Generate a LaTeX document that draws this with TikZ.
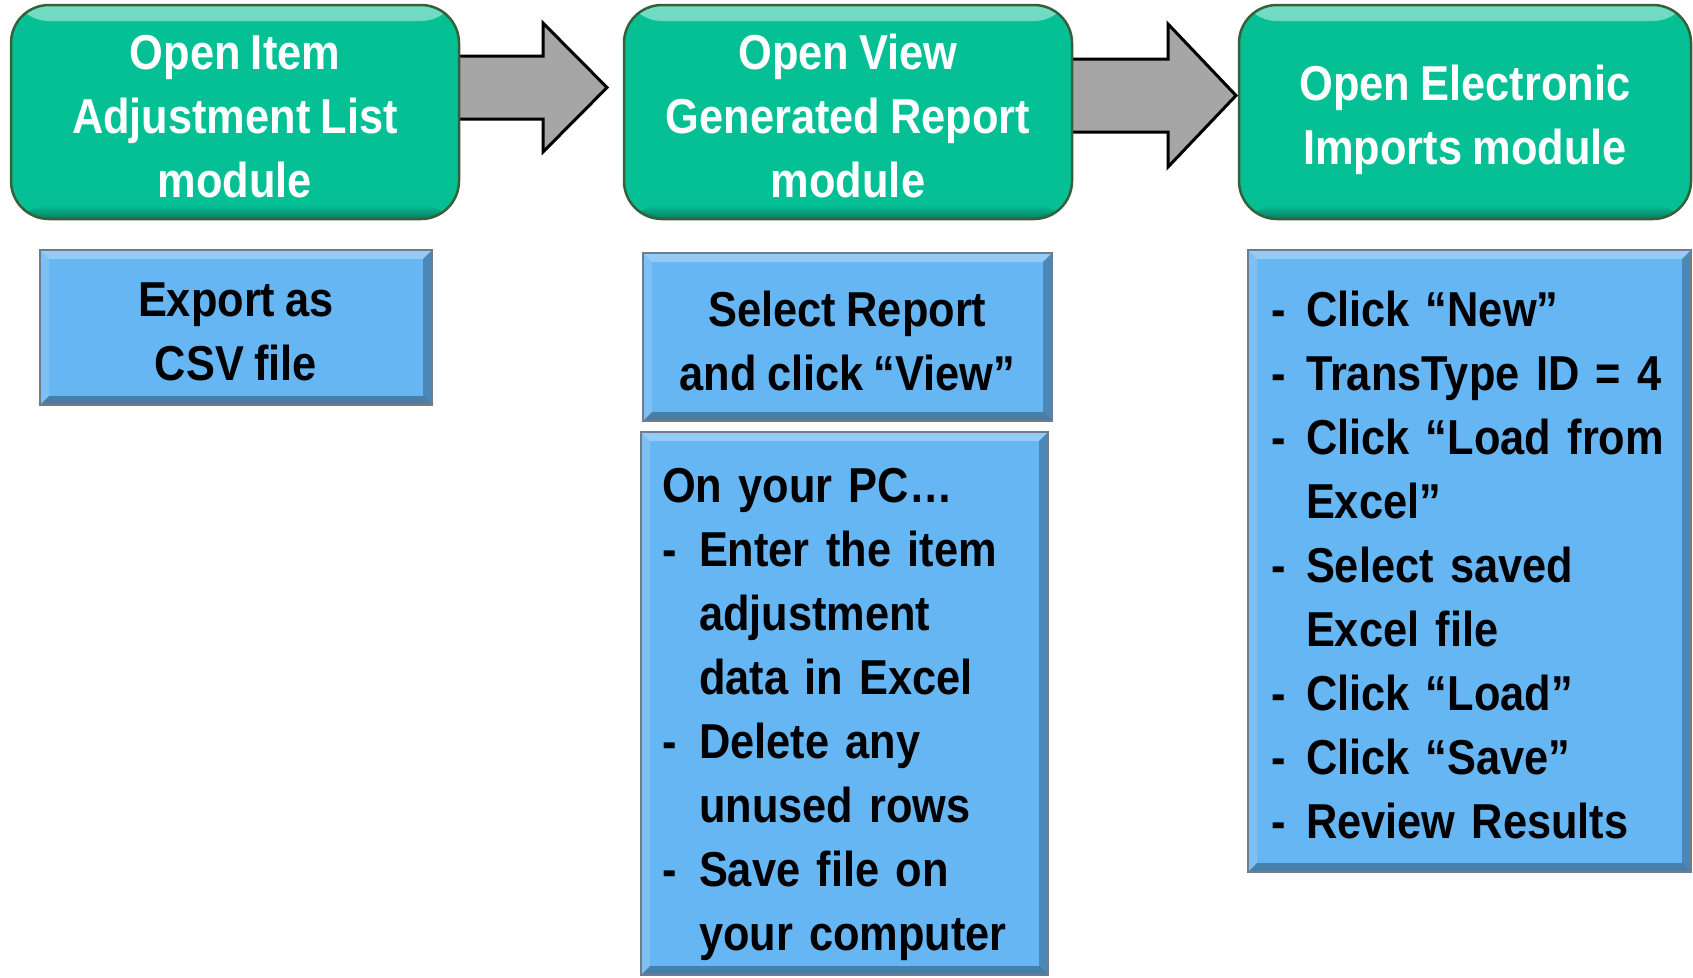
\documentclass[tikz,border=0pt]{standalone}
\usepackage{fontspec}
\setmainfont{Liberation Sans}[FakeStretch=0.885]
\usetikzlibrary{calc, backgrounds}

\definecolor{verdemod}{RGB}{6,192,149}
\definecolor{bordeverde}{RGB}{52,96,58}
\definecolor{azulcaja}{RGB}{102,182,243}
\definecolor{bordeazul}{RGB}{112,124,138}
\definecolor{grisflecha}{RGB}{166,166,166}

\newcommand{\letra}{\fontsize{49}{64}\selectfont\bfseries\spaceskip=0.21em plus 0.05em minus 0.02em\relax}
\newcommand{\guion}{\makebox[35pt][l]{-}}
\newcommand{\sangria}{\hspace*{35pt}}
\newcommand{\alto}[1]{\rule{0pt}{#1}}

\begin{document}
\begin{tikzpicture}[x=1pt,y=-1pt,
    relieve/.style={path picture={
        \shade[top color=white!45!verdemod, bottom color=verdemod]
            (path picture bounding box.north west) rectangle ($(path picture bounding box.north east)+(0,16)$);
        \shade[top color=verdemod, bottom color=black!35!verdemod]
            ($(path picture bounding box.south west)+(0,-14)$) rectangle (path picture bounding box.south east);}},
    modulo/.style={draw=bordeverde, line width=2.5pt, fill=verdemod, rounded corners=38pt,
        text=white, align=center, inner sep=0pt, font=\letra, relieve},
    bisel/.style={path picture={
        \fill[white,opacity=.3] (path picture bounding box.north west) -- (path picture bounding box.north east)
            -- ($(path picture bounding box.north east)+(-9,9)$) -- ($(path picture bounding box.north west)+(9,9)$) -- cycle;
        \fill[white,opacity=.15] (path picture bounding box.north west) -- (path picture bounding box.south west)
            -- ($(path picture bounding box.south west)+(9,-9)$) -- ($(path picture bounding box.north west)+(9,9)$) -- cycle;
        \fill[black,opacity=.25] (path picture bounding box.north east) -- (path picture bounding box.south east)
            -- ($(path picture bounding box.south east)+(-9,-9)$) -- ($(path picture bounding box.north east)+(-9,9)$) -- cycle;
        \fill[black,opacity=.3] (path picture bounding box.south west) -- (path picture bounding box.south east)
            -- ($(path picture bounding box.south east)+(-9,-9)$) -- ($(path picture bounding box.south west)+(9,-9)$) -- cycle;}},
    paso/.style={draw=bordeazul, line width=2pt, fill=azulcaja, text=black, inner sep=0pt, font=\letra, bisel},
    flecha/.style={draw=black, line width=3pt, fill=grisflecha, line join=miter}]

    % Fondo y limites del dibujo
    \begin{pgfonlayer}{background}
        \fill[white] (0,0) rectangle (1693,977);
    \end{pgfonlayer}
    \useasboundingbox (0,0) rectangle (1693,977);

    % Modulos (cajas verdes)
    \node[modulo, minimum width=448pt, minimum height=214pt] (m1) at (235,112) {\alto{44pt}Open Item\\Adjustment List\\module};
    \node[modulo, minimum width=448pt, minimum height=214pt] (m2) at (848,112) {\alto{44pt}Open View\\Generated Report\\module};
    \node[modulo, minimum width=452pt, minimum height=214pt] (m3) at (1465,112) {\alto{52pt}Open Electronic\\Imports module};

    % Pasos (cajas azules)
    \node[paso, minimum width=392pt, minimum height=155pt, align=center] (p1) at (236,327.5) {\alto{43pt}Export as\\CSV file};
    \node[paso, minimum width=409pt, minimum height=168pt, align=center] (p2) at (847.5,337) {\alto{43pt}Select Report\\and click “View”};
    \node[paso, minimum width=407pt, minimum height=543pt, align=left, text width=365pt] (p3) at (844.5,703.5)
        {\alto{56pt}On your PC…\\
         \makebox[37pt][l]{-}Enter the item\\
         \hspace*{37pt}adjustment\\
         \hspace*{37pt}data in Excel\\
         \makebox[37pt][l]{-}Delete any\\
         \hspace*{37pt}unused rows\\
         \makebox[37pt][l]{-}Save file on\\
         \hspace*{37pt}your computer};
    \node[paso, minimum width=443pt, minimum height=622pt, align=left, text width=397pt] (p4) at (1469.5,561)
        {\alto{43pt}\guion Click “New”\\
         \guion TransType ID = 4\\
         \guion Click “Load from\\
         \sangria Excel”\\
         \guion Select saved\\
         \sangria Excel file\\
         \guion Click “Load”\\
         \guion Click “Save”\\
         \guion Review Results};

    % Flechas grises entre modulos
    \coordinate (t1) at (607,87.5);
    \coordinate (t2) at (1236,95.5);
    \begin{pgfonlayer}{background}
        \draw[flecha] ($(m1.east |- t1)+(-10,-31.5)$) -- ($(t1)+(-64,-31.5)$) -- ($(t1)+(-64,-64.5)$) -- (t1)
            -- ($(t1)+(-64,64.5)$) -- ($(t1)+(-64,31.5)$) -- ($(m1.east |- t1)+(-10,31.5)$) -- cycle;
        \draw[flecha] ($(m2.east |- t2)+(-10,-36.5)$) -- ($(t2)+(-68,-36.5)$) -- ($(t2)+(-68,-71.5)$) -- (t2)
            -- ($(t2)+(-68,71.5)$) -- ($(t2)+(-68,36.5)$) -- ($(m2.east |- t2)+(-10,36.5)$) -- cycle;
    \end{pgfonlayer}

\end{tikzpicture}
\end{document}
